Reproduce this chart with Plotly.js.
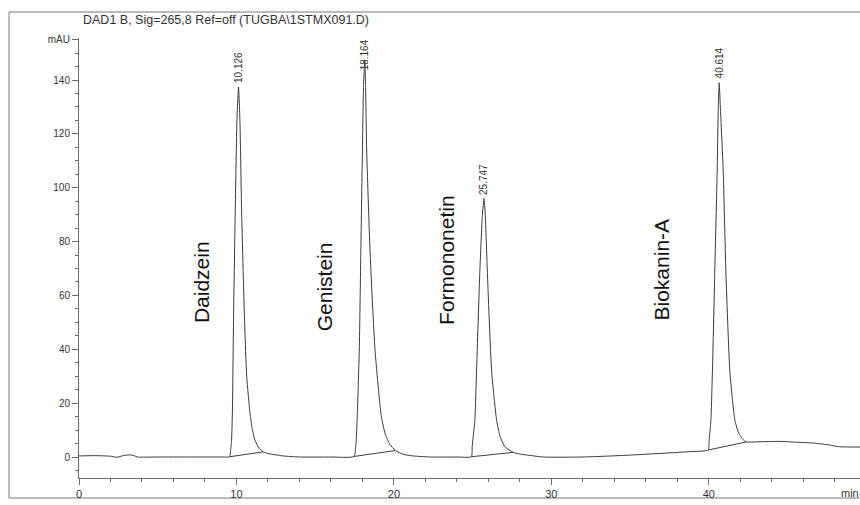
<!DOCTYPE html>
<html>
<head>
<meta charset="utf-8">
<script src="https://cdn.plot.ly/plotly-3.0.1.min.js"></script>
<style>
  html, body { margin: 0; padding: 0; background: #fff; overflow: hidden; }
  #chart { width: 860px; height: 505px; }
</style>
</head>
<body>
<div id="chart"></div>
<script>
// ---- data ----
const chartTitle = "DAD1 B, Sig=265,8 Ref=off (TUGBA\\1STMX091.D)";

const time = [
  0, 1.0, 2.0, 2.4, 2.8, 3.2, 3.5, 3.7, 5.0, 7.0, 9.0,
  9.57, 9.62, 9.69, 9.74, 9.82, 9.92, 10.03, 10.13, 10.22, 10.33, 10.5, 10.65, 10.86, 11.0, 11.17, 11.45, 11.7, 12.0, 12.95, 14.0, 16.0,
  17.46, 17.59, 17.67, 17.8, 17.9, 18.0, 18.07, 18.15, 18.2, 18.27, 18.48, 18.8, 19.2, 19.45, 19.75, 20.1, 20.6, 21.2, 22.3, 24.0,
  24.92, 24.97, 25.14, 25.25, 25.46, 25.62, 25.72, 25.8, 25.93, 26.2, 26.52, 26.75, 27.05, 27.58, 28.0, 29.5, 32.0, 35.0, 38.8,
  39.96, 40.02, 40.13, 40.23, 40.38, 40.53, 40.6, 40.66, 40.73, 40.91, 41.08, 41.33, 41.65, 41.9, 42.18, 42.39, 43.4, 44.5, 45.5, 46.6, 47.5, 48.3, 49.6
];
const signal = [
  0.4, 0.5, 0.3, -0.1, 0.5, 0.8, 0.5, 0, 0, 0, 0,
  0.1, 2, 6.3, 16.3, 53.5, 90.6, 125, 137.4, 125, 90.6, 53.5, 30, 16.3, 10.5, 6.3, 3.2, 1.9, 1.3, 0.4, 0, 0,
  0.2, 5, 15, 39.7, 76.9, 114, 138, 147.4, 138, 114, 76.9, 39.7, 15, 8.5, 4.6, 2.4, 1.0, 0.4, 0, 0,
  0.1, 3.8, 13.7, 32.3, 69.4, 90, 96, 90, 69.4, 32.3, 13.7, 7.5, 3.8, 1.7, 1.1, 0, 0, 0.7, 2.0,
  2.6, 6.3, 13.7, 32.3, 69.4, 106.6, 130, 139, 130, 106.6, 69.4, 32.3, 13.7, 8.8, 6.4, 5.6, 5.7, 5.8, 5.5, 5.2, 4.6, 3.8, 3.7
];

// integration baselines (start / end of each peak)
const baseStartT = [9.57, 17.46, 24.92, 39.96];
const baseStartY = [0.1, 0.2, 0.1, 2.6];
const baseEndT   = [11.7, 20.1, 27.58, 42.39];
const baseEndY   = [1.9, 2.4, 1.7, 5.6];

// peaks
const compounds   = ["Daidzein", "Genistein", "Formononetin", "Biokanin-A"];
const retention   = ["10.126", "18.164", "25.747", "40.614"];
const apexTime    = [10.13, 18.15, 25.72, 40.66];
const apexHeight  = [137.4, 147.4, 96, 139];

// axis ticks
const yTickVals = [0, 20, 40, 60, 80, 100, 120, 140, 155];
const yTickText = ["0", "20", "40", "60", "80", "100", "120", "140", "mAU"];
const xTickVals = [0, 10, 20, 30, 40];
const xTickText = ["0", "10", "20", "30", "40"];

// ---- build traces ----
const lineCol = "#3c3c3c";
const axisCol = "#6a6a6a";
const FONT = "Liberation Sans, Arial, sans-serif";

const baseX = [], baseY = [];
for (let i = 0; i < baseStartT.length; i++) {
  baseX.push(baseStartT[i], baseEndT[i], null);
  baseY.push(baseStartY[i], baseEndY[i], null);
}

const traces = [
  { x: time, y: signal, type: "scatter", mode: "lines",
    line: { color: lineCol, width: 1, shape: "spline", smoothing: 0.5 },
    hoverinfo: "skip", showlegend: false, cliponaxis: false },
  { x: baseX, y: baseY, type: "scatter", mode: "lines",
    line: { color: lineCol, width: 1 }, hoverinfo: "skip", showlegend: false }
];

// ---- annotations ----
const annotations = [];
const rtShift = [2, -12, 2, 2];
for (let i = 0; i < retention.length; i++) {
  annotations.push({
    x: apexTime[i], y: apexHeight[i], xref: "x", yref: "y",
    text: retention[i], showarrow: false, textangle: -90,
    xanchor: "center", yanchor: "bottom", yshift: rtShift[i],
    font: { family: FONT, size: 10, color: "#333" }
  });
}
const nameX = [7.75, 15.6, 23.37, 37.0];
const nameY = [49.0, 46.0, 48.3, 49.8];
for (let i = 0; i < compounds.length; i++) {
  annotations.push({
    x: nameX[i], y: nameY[i], xref: "x", yref: "y",
    text: compounds[i], showarrow: false, textangle: -90,
    xanchor: "center", yanchor: "bottom",
    font: { family: FONT, size: 21, color: "#111" }
  });
}
// "min" unit label at right end of the x axis
annotations.push({
  x: (839 - 79) / 781, y: -(493 - 478) / 440, xref: "paper", yref: "paper",
  text: "min", showarrow: false, xanchor: "left", yanchor: "middle",
  font: { family: FONT, size: 11, color: "#333" }
});

const layout = {
  width: 860, height: 505,
  margin: { l: 79, r: 0, t: 38, b: 27 },
  paper_bgcolor: "#fff", plot_bgcolor: "#fff",
  showlegend: false,
  title: {
    text: chartTitle, x: 83 / 860, xanchor: "left", xref: "container",
    y: 1 - 20 / 505, yanchor: "middle", yref: "container",
    font: { family: FONT, size: 12.5, color: "#333" }
  },
  xaxis: {
    range: [0, 49.6], showgrid: false, zeroline: false,
    showline: true, linecolor: axisCol, linewidth: 1,
    ticks: "outside", ticklen: 6, tickcolor: axisCol, tickwidth: 1,
    tickmode: "array", tickvals: xTickVals, ticktext: xTickText,
    tickfont: { family: FONT, size: 11, color: "#333" },
    minor: { tickmode: "linear", tick0: 0, dtick: 2, ticks: "outside", ticklen: 3, tickcolor: axisCol, showgrid: false },
    fixedrange: true
  },
  yaxis: {
    range: [-7.8, 155.6], showgrid: false, zeroline: false,
    showline: true, linecolor: axisCol, linewidth: 1,
    ticks: "outside", ticklen: 6, tickcolor: axisCol, tickwidth: 1,
    tickmode: "array", tickvals: yTickVals, ticktext: yTickText,
    tickfont: { family: FONT, size: 10, color: "#333" },
    minor: { tickmode: "linear", tick0: 0, dtick: 5, ticks: "outside", ticklen: 3, tickcolor: axisCol, showgrid: false },
    fixedrange: true
  },
  shapes: [
    { type: "rect", xref: "paper", yref: "paper",
      x0: (9 - 79) / 781, x1: 1.05, y0: (478 - 498) / 440, y1: (478 - 12) / 440,
      line: { color: "#777", width: 1 }, fillcolor: "rgba(0,0,0,0)", layer: "below" }
  ],
  annotations: annotations
};

Plotly.newPlot("chart", traces, layout, { staticPlot: true, displayModeBar: false });
</script>
</body>
</html>
